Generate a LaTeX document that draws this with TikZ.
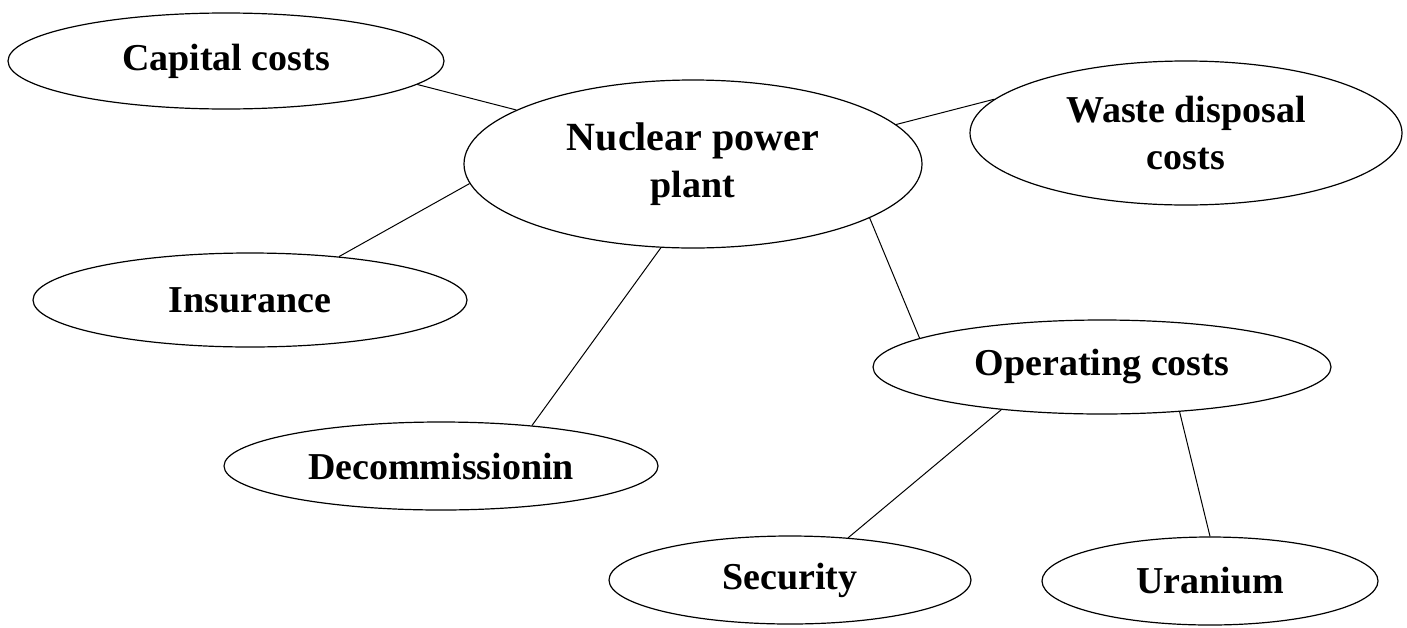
\documentclass[tikz,border=0pt]{standalone}
\usepackage{fontspec}
\setmainfont{Liberation Serif}
\usetikzlibrary{shapes.geometric}
\tikzset{cost/.style={ellipse, draw=black, line width=1.2pt, inner sep=0pt,
  font=\fontsize{38}{47}\selectfont\bfseries, align=center},
%size of the ellipse is given as half axes
cost/.default={},
half/.style 2 args={minimum width=2*#1, minimum height=2*#2}}

\begin{document}
\begin{tikzpicture}[x=1pt,y=-1pt]

    \useasboundingbox (0,0) rectangle (1407,627);
    \clip (0,0) rectangle (1407,627);

    \node[cost, half={218pt}{48pt}]  (cap)   at (226,61)   {Capital costs};
    \node[cost, half={229pt}{84pt}]  (npp)   at (693,164)  {\fontsize{40}{47}\selectfont Nuclear power\\plant};
    \node[cost, half={216pt}{72pt}]  (waste) at (1186,133) {Waste disposal\\costs};
    \node[cost, half={217pt}{47pt}]  (ins)   at (250,300)  {Insurance};
    \node[cost, half={229pt}{47pt}]  (oper)  at (1102,367) {Operating costs};
    \node[cost, half={217pt}{44pt}]  (decom) at (441,466)  {Decommissionin};
    \node[cost, half={181pt}{44pt}]  (sec)   at (790,580)  {Security};
    \node[cost, half={168pt}{44pt}]  (uran)  at (1210,581) {Uranium};


    \foreach \a/\b in {cap.-7/npp.163, npp.11/waste.170, ins.26/npp.-175,
                       npp.-111/decom.24, npp.-17/oper.171,
                       oper.-157/sec.36, oper.-30/uran.90}
    \draw[line width=1pt] (\a) -- (\b);

  \end{tikzpicture}
\end{document}
